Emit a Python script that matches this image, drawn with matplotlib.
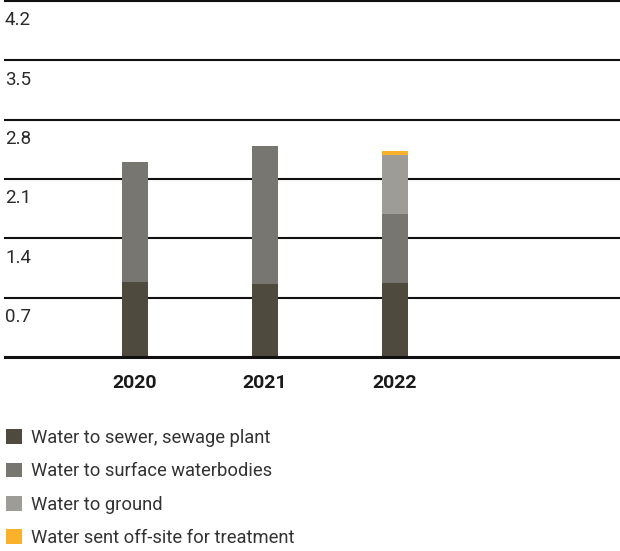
import matplotlib
matplotlib.use("Agg")
import matplotlib.pyplot as plt
from matplotlib.patches import Patch

plt.rcParams['font.family'] = ['Roboto', 'DejaVu Sans']

# data (thousand m3)
years = ['2020', '2021', '2022']
sewer = [0.885, 0.861, 0.873]
surface = [1.415, 1.63, 0.814]
ground = [0.0, 0.0, 0.697]
offsite = [0.0, 0.0, 0.05]
series_names = ['Water to sewer, sewage plant', 'Water to surface waterbodies',
                'Water to ground', 'Water sent off-site for treatment']
series_colors = ['#4e4a3e', '#787670', '#9d9c97', '#fbb12b']
yticks = [0.0, 0.7, 1.4, 2.1, 2.8, 3.5, 4.2]

fig = plt.figure(figsize=(6.2, 5.51), dpi=100)
ax = fig.add_axes([5 / 620, (551 - 357) / 551, 615 / 620, 356 / 551])

x = list(range(len(years)))
bottom = [0.0] * len(years)
for vals, col in zip([sewer, surface, ground, offsite], series_colors):
    ax.bar(x, vals, width=0.2, bottom=bottom, color=col, edgecolor='none', zorder=2)
    bottom = [b + v for b, v in zip(bottom, vals)]

# horizontal rules with the value written just under each
for v in yticks:
    if v == 0:
        ax.axhline(v, color='#111111', lw=2.2, zorder=3, clip_on=False)
        continue
    ax.axhline(v, color='#111111', lw=1.5, zorder=1, clip_on=False)
    ax.annotate(f'{v:.1f}', xy=(0, v), xycoords=('axes fraction', 'data'),
                xytext=(0, -7.5), textcoords='offset points', va='top', ha='left',
                fontsize=13.5, color='#2a2a2a')

ax.set_xlim(-1.0, 3.73)
ax.set_ylim(0, 4.2)
ax.set_yticks([])
ax.set_xticks(x, years, fontsize=14, fontweight='bold', color='#1a1a1a')
ax.tick_params(axis='x', length=0, pad=12)
for s in ax.spines.values():
    s.set_visible(False)

handles = [Patch(facecolor=c, edgecolor='none') for c in series_colors]
fig.legend(handles, series_names, loc='upper left', bbox_to_anchor=(6 / 620, (551 - 429) / 551),
           frameon=False, fontsize=13.2, handlelength=0.87, handleheight=0.87,
           handletextpad=0.5, labelspacing=0.84, borderpad=0, borderaxespad=0,
           labelcolor='#333333')

fig.savefig('out.png', dpi=100)
